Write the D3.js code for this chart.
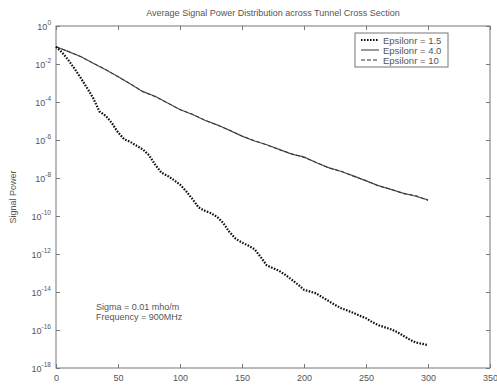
<!DOCTYPE html>
<html lang="en">
<head>
<meta charset="UTF-8">
<title>Average Signal Power Distribution</title>
<script src="https://d3js.org/d3.v7.min.js"></script>
<style>
    body { margin: 0; background: #fff; }
    svg { display: block; font-family: 'Liberation Sans', Arial, sans-serif; }
    .axis path, .axis line { stroke: #777; }
    .axis text { fill: #555; font-size: 9px; }
</style>
</head>
<body>
<svg id="chart" width="497" height="385"></svg>
<script>
// distance along tunnel (m)
const distUpper = [0, 10, 20, 30, 40, 50, 60, 70, 80, 90, 100, 110, 120, 130, 140, 150,
    160, 170, 180, 190, 200, 210, 220, 230, 240, 250, 260, 270, 280, 290, 300];
const powerEps4 = [8.1e-2, 4.5e-2, 2.5e-2, 1.1e-2, 5.0e-3, 2.2e-3, 8.9e-4, 3.5e-4, 2.0e-4, 8.9e-5,
    4.0e-5, 2.2e-5, 1.1e-5, 6.3e-6, 3.2e-6, 1.6e-6, 8.9e-7, 5.6e-7, 3.2e-7, 1.8e-7,
    1.3e-7, 6.3e-8, 3.5e-8, 2.2e-8, 1.3e-8, 7.1e-9, 4.0e-9, 2.5e-9, 1.6e-9, 1.1e-9, 7.1e-10];
const powerEps10 = [8.1e-2, 4.6e-2, 2.4e-2, 1.1e-2, 5.2e-3, 2.1e-3, 9.1e-4, 3.6e-4, 1.9e-4, 9.0e-5,
    3.9e-5, 2.3e-5, 1.1e-5, 6.1e-6, 3.3e-6, 1.6e-6, 9.3e-7, 5.5e-7, 3.1e-7, 1.9e-7,
    1.2e-7, 6.6e-8, 3.3e-8, 2.3e-8, 1.2e-8, 7.4e-9, 3.8e-9, 2.6e-9, 1.5e-9, 1.2e-9, 6.6e-10];

const distLower = [0, 5, 10, 15, 20, 25, 30, 35, 40, 45, 50, 55, 60, 65, 70, 75, 80, 85, 90, 95,
    100, 105, 110, 115, 120, 125, 130, 135, 140, 145, 150, 155, 160, 165, 170, 175, 180, 185, 190, 195,
    200, 205, 210, 215, 220, 225, 230, 235, 240, 245, 250, 255, 260, 265, 270, 275, 280, 285, 290, 295, 300];
const powerEps15 = [8.1e-2, 4.0e-2, 1.6e-2, 5.6e-3, 1.8e-3, 5.6e-4, 1.6e-4, 3.2e-5, 1.9e-5, 7.9e-6,
    2.5e-6, 1.1e-6, 7.9e-7, 5.0e-7, 3.2e-7, 1.6e-7, 5.0e-8, 1.9e-8, 1.3e-8, 7.9e-9,
    4.5e-9, 2.0e-9, 7.9e-10, 2.8e-10, 1.9e-10, 1.4e-10, 8.9e-11, 4.2e-11, 1.4e-11, 6.3e-12,
    4.0e-12, 2.8e-12, 1.8e-12, 7.1e-13, 2.5e-13, 1.8e-13, 1.3e-13, 7.9e-14, 4.5e-14, 2.5e-14,
    1.3e-14, 1.05e-14, 8.3e-15, 5.2e-15, 3.3e-15, 2.1e-15, 1.4e-15, 1.05e-15, 7.9e-16, 5.6e-16,
    4.2e-16, 2.6e-16, 1.8e-16, 1.4e-16, 1.1e-16, 7.9e-17, 5.0e-17, 3.2e-17, 2.2e-17, 1.9e-17, 1.6e-17];

const xTicks = [0, 50, 100, 150, 200, 250, 300, 350];
const yExponents = [0, -2, -4, -6, -8, -10, -12, -14, -16, -18];
const legendLabels = ["Epsilonr = 1.5", "Epsilonr = 4.0", "Epsilonr = 10"];
const noteLines = ["Sigma = 0.01 mho/m", "Frequency = 900MHz"];
const titleText = "Average Signal Power Distribution across Tunnel Cross Section";

const svg = d3.select("#chart");
const plot = { left: 56, right: 490, top: 26, bottom: 368 };

const x = d3.scaleLinear().domain([0, 350]).range([plot.left, plot.right]);
const y = d3.scaleLog().domain([1e-18, 1]).range([plot.bottom, plot.top]);
const yTickVals = yExponents.map(e => Math.pow(10, e));

// box
svg.append("rect")
    .attr("x", plot.left).attr("y", plot.top)
    .attr("width", plot.right - plot.left).attr("height", plot.bottom - plot.top)
    .attr("fill", "none").attr("stroke", "#777");

// bottom axis with labels
svg.append("g").attr("class", "axis")
    .attr("transform", `translate(0,${plot.bottom})`)
    .call(d3.axisBottom(x).tickValues(xTicks).tickSizeInner(-4).tickSizeOuter(0).tickPadding(7))
    .call(g => g.select(".domain").remove());

svg.append("g").attr("class", "axis")
    .attr("transform", `translate(0,${plot.top})`)
    .call(d3.axisTop(x).tickValues(xTicks).tickSizeInner(-4).tickSizeOuter(0).tickFormat(""))
    .call(g => g.select(".domain").remove());

const yLeft = svg.append("g").attr("class", "axis")
    .attr("transform", `translate(${plot.left},0)`)
    .call(d3.axisLeft(y).tickValues(yTickVals).tickSizeInner(-4).tickSizeOuter(0).tickFormat(""))
    .call(g => g.select(".domain").remove());

svg.append("g").attr("class", "axis")
    .attr("transform", `translate(${plot.right},0)`)
    .call(d3.axisRight(y).tickValues(yTickVals).tickSizeInner(-4).tickSizeOuter(0).tickFormat(""))
    .call(g => g.select(".domain").remove());

// power-of-ten labels
yExponents.forEach(e => {
    const t = svg.append("text")
        .attr("x", plot.left - 5)
        .attr("y", y(Math.pow(10, e)) + 4)
        .attr("text-anchor", "end")
        .attr("fill", "#555")
        .attr("font-size", 9);
    t.append("tspan").text("10");
    t.append("tspan").attr("dy", -5).attr("font-size", 6.5).text(e);
});

// title and axis label
svg.append("text")
    .attr("x", (plot.left + plot.right) / 2).attr("y", 16)
    .attr("text-anchor", "middle").attr("fill", "#555").attr("font-size", 9)
    .text(titleText);

svg.append("text")
    .attr("transform", `translate(16,${(plot.top + plot.bottom) / 2}) rotate(-90)`)
    .attr("text-anchor", "middle").attr("fill", "#555").attr("font-size", 9)
    .text("Signal Power");

// series
const line = d3.line().x(d => x(d[0])).y(d => y(d[1]));

svg.append("path")
    .datum(d3.zip(distUpper, powerEps4))
    .attr("fill", "none").attr("stroke", "#555").attr("stroke-width", 1.2)
    .attr("d", line);

svg.append("path")
    .datum(d3.zip(distUpper, powerEps10))
    .attr("fill", "none").attr("stroke", "#333").attr("stroke-width", 1)
    .attr("stroke-dasharray", "4,2")
    .attr("d", line);

svg.append("path")
    .datum(d3.zip(distLower, powerEps15))
    .attr("fill", "none").attr("stroke", "#111").attr("stroke-width", 2.2)
    .attr("stroke-dasharray", "1.6,1.4")
    .attr("d", line);

// legend
const lg = svg.append("g").attr("transform", "translate(355,33)");
lg.append("rect").attr("width", 93).attr("height", 34)
    .attr("fill", "#fff").attr("stroke", "#777");
const legendStyles = [
    { stroke: "#111", width: 2, dash: "1.6,1.4" },
    { stroke: "#555", width: 1.2, dash: null },
    { stroke: "#333", width: 1, dash: "4,2" }
];
legendLabels.forEach((lab, i) => {
    const ly = 7 + i * 10;
    lg.append("line")
        .attr("x1", 6).attr("x2", 24).attr("y1", ly).attr("y2", ly)
        .attr("stroke", legendStyles[i].stroke)
        .attr("stroke-width", legendStyles[i].width)
        .attr("stroke-dasharray", legendStyles[i].dash);
    lg.append("text")
        .attr("x", 28).attr("y", ly + 3.5)
        .attr("fill", "#555").attr("font-size", 9.5)
        .text(lab);
});

// annotation
noteLines.forEach((s, i) => {
    svg.append("text")
        .attr("x", 96).attr("y", 310 + i * 10)
        .attr("fill", "#555").attr("font-size", 9)
        .text(s);
});
</script>
</body>
</html>
